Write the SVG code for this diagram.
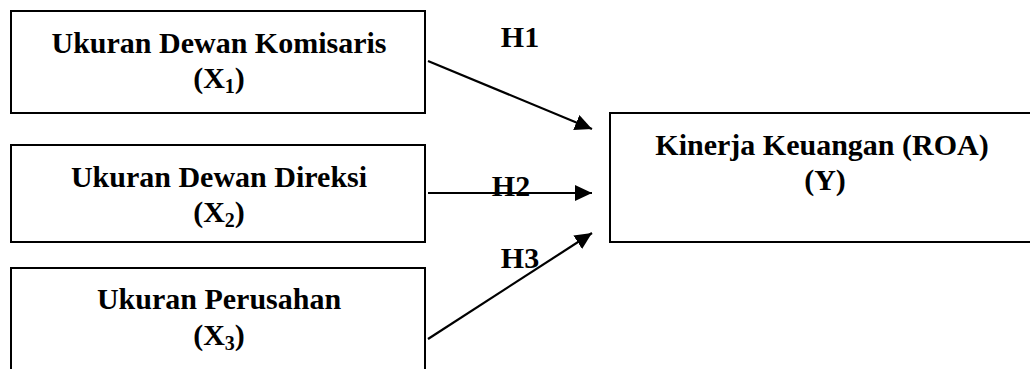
<svg xmlns="http://www.w3.org/2000/svg" width="1030" height="369" viewBox="0 0 1030 369">
<style>
.box{fill:#fff;stroke:#000;stroke-width:2}
.t{font-family:"Liberation Serif","Times New Roman",serif;font-weight:bold;font-size:30px;fill:#000;text-anchor:middle}
.sub{font-size:20px}
.conn{stroke:#000;stroke-width:2.2;fill:none}
</style>
<defs>
<marker id="ah" markerUnits="userSpaceOnUse" markerWidth="18" markerHeight="16" refX="17" refY="8" orient="auto">
<path d="M0,0 L17,8 L0,16 Z" fill="#000"/>
</marker>
</defs>
<rect width="1030" height="369" fill="#fff"/>
<g id="x1">
<rect class="box" x="11" y="11" width="414" height="102"/>
<text class="t" x="219" y="53">Ukuran Dewan Komisaris</text>
<text class="t" x="219" y="88">(X<tspan class="sub" dy="5">1</tspan><tspan dy="-5">)</tspan></text>
</g>
<g id="x2">
<rect class="box" x="11" y="145" width="414" height="97"/>
<text class="t" x="219" y="187">Ukuran Dewan Direksi</text>
<text class="t" x="219" y="222">(X<tspan class="sub" dy="5">2</tspan><tspan dy="-5">)</tspan></text>
</g>
<g id="x3">
<rect class="box" x="11" y="268" width="414" height="120"/>
<text class="t" x="219" y="309">Ukuran Perusahan</text>
<text class="t" x="219" y="345">(X<tspan class="sub" dy="5">3</tspan><tspan dy="-5">)</tspan></text>
</g>
<g id="y">
<rect class="box" x="610" y="113" width="430" height="129"/>
<text class="t" x="822" y="155">Kinerja Keuangan (ROA)</text>
<text class="t" x="825" y="190">(Y)</text>
</g>
<g id="connectors">
<line class="conn" x1="428" y1="61" x2="592" y2="129" marker-end="url(#ah)"/>
<line class="conn" x1="428" y1="193" x2="592" y2="193" marker-end="url(#ah)"/>
<line class="conn" x1="428" y1="339" x2="592" y2="233" marker-end="url(#ah)"/>
<text class="t" x="520" y="47">H1</text>
<text class="t" x="511" y="196">H2</text>
<text class="t" x="520" y="268">H3</text>
</g>
</svg>
